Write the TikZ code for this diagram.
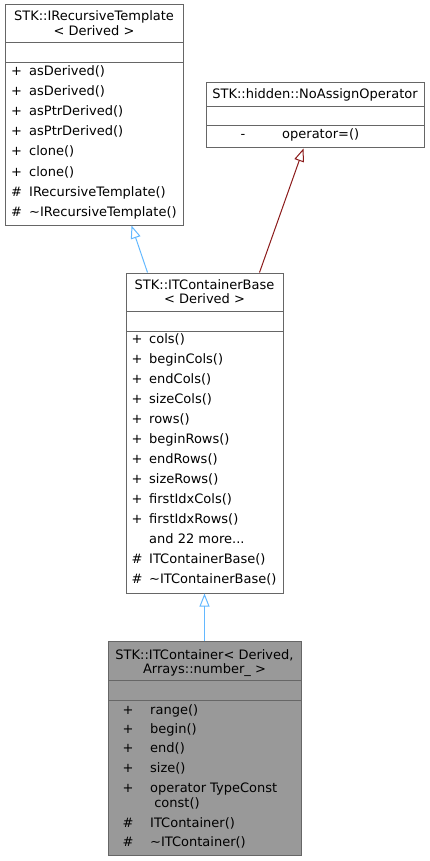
\documentclass[tikz,border=0pt]{standalone}
\usepackage{fontspec}
\setmainfont{DejaVu Sans}
\usetikzlibrary{arrows.meta}
\definecolor{boxgrey}{HTML}{666666}
\definecolor{fillgrey}{HTML}{999999}
\definecolor{inheritblue}{HTML}{63B8FF}
\definecolor{privred}{HTML}{8B1A1A}

\begin{document}
\begin{tikzpicture}[x=1pt, y=-1pt, font=\fontsize{13}{15}\selectfont,
    classbox/.style={draw=boxgrey, line width=1pt, inner sep=0pt},
    sepline/.style={draw=boxgrey, line width=1pt},
    title/.style={anchor=base, inner sep=0pt},
    sign/.style={anchor=base, inner sep=0pt},
    member/.style={anchor=base west, inner sep=0pt},
    inherit/.style={line width=1pt, -{Triangle[open, length=13pt, width=10pt]}}]
    \useasboundingbox (0,0) rectangle (429,861);

    % IRecursiveTemplate
    \node[classbox, minimum width=178pt, minimum height=220pt] (tmpl) at (94,115) {};
    \draw[sepline] (5,43) -- (183,43);
    \draw[sepline] (5,63) -- (183,63);
    \node[title] (tmpl-t1) at (94,21) {STK::IRecursiveTemplate};
    \node[title] (tmpl-t2) at (94,36) {< Derived >};
    \node[sign] (tmpl-s1) at (16.5,76) {+};
    \node[sign] (tmpl-s2) at (16.5,96) {+};
    \node[sign] (tmpl-s3) at (16.5,116) {+};
    \node[sign] (tmpl-s4) at (16.5,136) {+};
    \node[sign] (tmpl-s5) at (16.5,156) {+};
    \node[sign] (tmpl-s6) at (16.5,176) {+};
    \node[sign] (tmpl-s7) at (16.5,196) {\#};
    \node[sign] (tmpl-s8) at (16.5,216) {\#};
    \node[member] (tmpl-m1) at (29,76) {asDerived()};
    \node[member] (tmpl-m2) at (29,96) {asDerived()};
    \node[member] (tmpl-m3) at (29,116) {asPtrDerived()};
    \node[member] (tmpl-m4) at (29,136) {asPtrDerived()};
    \node[member] (tmpl-m5) at (29,156) {clone()};
    \node[member] (tmpl-m6) at (29,176) {clone()};
    \node[member] (tmpl-m7) at (29,196) {IRecursiveTemplate()};
    \node[member] (tmpl-m8) at (29,216) {\textasciitilde IRecursiveTemplate()};

    % NoAssignOperator
    \node[classbox, minimum width=218pt, minimum height=65pt] (noassign) at (315,115.5) {};
    \draw[sepline] (206,107) -- (424,107);
    \draw[sepline] (206,126) -- (424,126);
    \node[title] (noassign-t1) at (315,99) {STK::hidden::NoAssignOperator};
    \node[sign] (noassign-s1) at (243,139) {-};
    \node[member] (noassign-m1) at (282,139) {operator=()};

    % ITContainerBase
    \node[classbox, minimum width=157pt, minimum height=320pt] (base) at (204.5,433) {};
    \draw[sepline] (126,311) -- (283,311);
    \draw[sepline] (126,331) -- (283,331);
    \node[title] (base-t1) at (204.5,289) {STK::ITContainerBase};
    \node[title] (base-t2) at (204.5,303) {< Derived >};
    \node[sign] (base-s1) at (137,343) {+};
    \node[sign] (base-s2) at (137,363) {+};
    \node[sign] (base-s3) at (137,383) {+};
    \node[sign] (base-s4) at (137,403) {+};
    \node[sign] (base-s5) at (137,423) {+};
    \node[sign] (base-s6) at (137,443) {+};
    \node[sign] (base-s7) at (137,463) {+};
    \node[sign] (base-s8) at (137,483) {+};
    \node[sign] (base-s9) at (137,503) {+};
    \node[sign] (base-s10) at (137,523) {+};
    \node[sign] (base-s12) at (137,563) {\#};
    \node[sign] (base-s13) at (137,583) {\#};
    \node[member] (base-m1) at (149,343) {cols()};
    \node[member] (base-m2) at (149,363) {beginCols()};
    \node[member] (base-m3) at (149,383) {endCols()};
    \node[member] (base-m4) at (149,403) {sizeCols()};
    \node[member] (base-m5) at (149,423) {rows()};
    \node[member] (base-m6) at (149,443) {beginRows()};
    \node[member] (base-m7) at (149,463) {endRows()};
    \node[member] (base-m8) at (149,483) {sizeRows()};
    \node[member] (base-m9) at (149,503) {firstIdxCols()};
    \node[member] (base-m10) at (149,523) {firstIdxRows()};
    \node[member] (base-m11) at (149,543) {and 22 more...};
    \node[member] (base-m12) at (149,563) {ITContainerBase()};
    \node[member] (base-m13) at (149,583) {\textasciitilde ITContainerBase()};

    % ITContainer
    \node[classbox, fill=fillgrey, minimum width=193pt, minimum height=214pt] (cont) at (204.5,748) {};
    \draw[sepline] (108,680) -- (301,680);
    \draw[sepline] (108,700) -- (301,700);
    \node[title] (cont-t1) at (204.5,659) {STK::ITContainer< Derived,};
    \node[title] (cont-t2) at (204.5,673) {Arrays::number\_ >};
    \node[sign] (cont-s1) at (128,714) {+};
    \node[sign] (cont-s2) at (128,733) {+};
    \node[sign] (cont-s3) at (128,752) {+};
    \node[sign] (cont-s4) at (128,772) {+};
    \node[sign] (cont-s5) at (128,792) {+};
    \node[sign] (cont-s6) at (128,827) {\#};
    \node[sign] (cont-s7) at (128,846) {\#};
    \node[member] (cont-m1) at (150,714) {range()};
    \node[member] (cont-m2) at (150,733) {begin()};
    \node[member] (cont-m3) at (150,752) {end()};
    \node[member] (cont-m4) at (150,772) {size()};
    \node[member] (cont-m5) at (150,792) {operator TypeConst};
    \node[member] (cont-m5b) at (150,807) {\ const()};
    \node[member] (cont-m6) at (150,827) {ITContainer()};
    \node[member] (cont-m7) at (150,846) {\textasciitilde ITContainer()};

    % inheritance
    \draw[inherit, inheritblue] ([xshift=22pt]base.north west) -- ([xshift=127pt]tmpl.south west);
    \draw[inherit, privred] ([xshift=134pt]base.north west) -- ([xshift=98pt]noassign.south west);
    \draw[inherit, inheritblue] (cont.north) -- (base.south);
\end{tikzpicture}
\end{document}
